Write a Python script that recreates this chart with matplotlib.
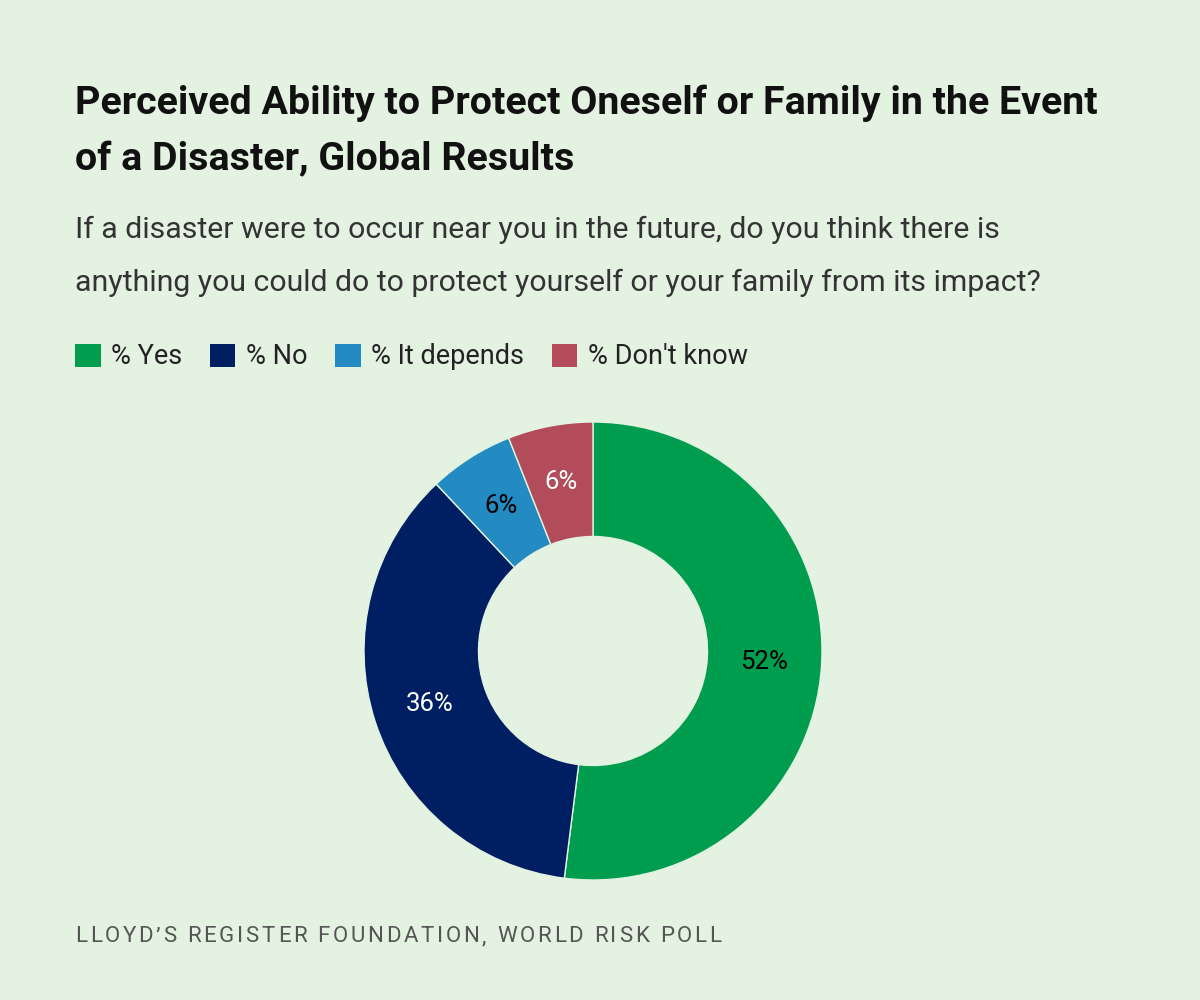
import matplotlib
matplotlib.use("Agg")
import matplotlib.pyplot as plt

categories = ["% Yes", "% No", "% It depends", "% Don't know"]
values = [52, 36, 6, 6]
colors = ["#009D4F", "#001F62", "#238BC1", "#B24C5A"]
label_colors = ["black", "white", "black", "white"]
source = "LLOYD\u2019S REGISTER FOUNDATION, WORLD RISK POLL"

bg = "#E3F2E1"
plt.rcParams["font.family"] = ["Roboto", "DejaVu Sans"]

fig = plt.figure(figsize=(12, 10), dpi=100, facecolor=bg)

fig.text(75 / 1200, 1 - 103 / 1000,
         "Perceived Ability to Protect Oneself or Family in the Event",
         fontsize=28.4, fontweight="bold", color="#111111", va="center")
fig.text(75 / 1200, 1 - 160 / 1000, "of a Disaster, Global Results",
         fontsize=28.4, fontweight="bold", color="#111111", va="center")
fig.text(75 / 1200, 1 - 230 / 1000,
         "If a disaster were to occur near you in the future, do you think there is",
         fontsize=21.8, color="#333333", va="center")
fig.text(75 / 1200, 1 - 283 / 1000,
         "anything you could do to protect yourself or your family from its impact?",
         fontsize=21.8, color="#333333", va="center")

ax = fig.add_axes([364 / 1200, 120 / 1000, 458 / 1200, 458 / 1000])
ax.set_facecolor(bg)
wedges, texts, autotexts = ax.pie(
    values, colors=colors, startangle=90, counterclock=False,
    radius=1, pctdistance=0.75, autopct="%d%%",
    wedgeprops=dict(width=0.5, edgecolor=bg, linewidth=1),
    textprops=dict(fontsize=18.5),
)
for t, c in zip(autotexts, label_colors):
    t.set_color(c)
ax.set_xlim(-1, 1)
ax.set_ylim(-1, 1)
ax.set_aspect("equal")
ax.axis("off")

leg = fig.legend(wedges, categories, loc="center left",
                 bbox_to_anchor=(64 / 1200, 1 - 357 / 1000), ncol=4,
                 frameon=False, fontsize=19.5, handlelength=0.95, handleheight=0.95,
                 handletextpad=0.4, columnspacing=1.0, borderaxespad=0)
for h in leg.legend_handles:
    h.set_edgecolor("none")
for t in leg.get_texts():
    t.set_color("#222222")

# letter-spaced source line
renderer = fig.canvas.get_renderer()
x = 75
for ch in source:
    t = fig.text(x / 1200, 1 - 937 / 1000, ch, fontsize=16, color="#555555", va="center")
    w = t.get_window_extent(renderer).width
    if ch == " ":
        w = 5
    x += w + 2.75

fig.savefig("out.png", dpi=100, facecolor=bg)
